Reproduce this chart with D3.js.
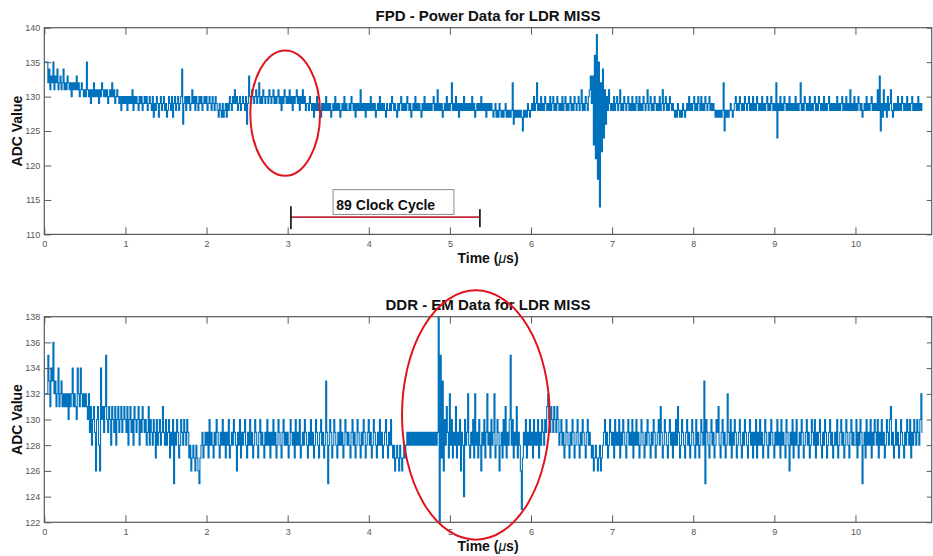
<!DOCTYPE html>
<html>
<head>
<meta charset="utf-8">
<script src="https://cdn.jsdelivr.net/npm/d3@7"></script>
<style>
	body { margin: 0; background: #fff; }
	svg { display: block; font-family: "Liberation Sans", Arial, sans-serif; }
</style>
</head>
<body>
<svg id="chart"></svg>
<script>
// sample spacing of both traces, in microseconds (20 samples per row = 0.25 us)
const dt = 0.0125;

// FPD power trace, ADC counts
const fpdValues = [
	135,135,135,135,132,134,131,133,132,135,131,133,132,134,131,132,133,131,132,134,
	131,132,131,133,132,131,132,130,132,131,132,131,133,131,132,130,131,132,131,130,
	131,130,135,131,130,131,129,131,130,132,130,131,130,131,129,131,130,132,131,130,
	131,130,131,129,130,131,130,132,130,131,129,130,131,130,129,130,128,130,129,130,
	129,130,128,130,129,130,129,131,128,130,129,130,129,128,130,129,130,128,129,130,
	129,130,128,129,130,129,128,130,127,129,128,130,129,127,129,130,128,129,130,128,
	129,127,128,130,129,128,130,127,129,130,128,129,130,128,129,130,134,126,129,130,
	128,130,129,130,128,129,131,129,130,128,130,129,128,130,129,130,128,129,130,129,
	130,128,129,130,129,128,130,129,128,130,129,128,127,129,128,127,129,127,128,129,
	127,129,128,130,129,128,130,129,131,129,130,128,129,130,128,129,130,129,128,130,
	126,129,133,130,129,131,130,129,130,131,129,130,132,129,130,129,131,130,129,130,
	130,129,131,130,129,130,131,129,130,129,130,131,129,130,128,130,129,131,130,129,
	130,129,131,129,130,128,130,129,130,131,129,130,128,130,129,131,129,130,128,129,
	129,128,130,129,128,129,127,129,128,130,128,129,128,127,129,128,129,128,130,128,
	129,128,129,127,128,129,128,130,128,129,128,129,127,128,129,128,130,128,129,128,
	128,129,128,130,129,128,129,127,129,128,129,128,131,128,129,128,129,127,129,128,
	129,128,130,128,129,128,129,127,128,129,128,130,128,129,128,129,128,127,129,128,
	128,129,128,130,129,128,129,128,127,129,128,129,130,128,129,128,129,128,130,129,
	128,129,127,128,129,128,130,128,129,128,129,128,127,129,128,130,128,129,128,129,
	128,129,128,129,130,128,129,128,131,128,129,128,129,127,128,129,128,130,128,129,
	128,129,132,128,129,128,130,128,129,127,129,128,129,128,130,128,129,128,129,128,
	129,128,130,128,129,127,128,129,128,129,128,130,128,129,128,129,127,129,128,129,
	128,129,128,127,128,129,127,128,127,129,128,127,128,127,128,129,127,128,127,128,
	127,128,132,126,128,127,128,127,128,127,128,127,125,128,127,128,127,129,128,127,
	128,129,128,130,128,129,132,128,129,128,130,128,129,128,130,129,128,129,128,130,
	128,129,130,128,129,128,130,129,128,129,128,130,128,129,130,128,129,128,129,130,
	128,129,128,130,129,128,129,130,128,129,131,128,129,128,130,129,128,130,131,133,
	129,133,123,136,121,139,118,135,114,132,122,134,124,131,126,130,128,131,129,128,
	129,128,130,128,129,130,128,129,131,128,129,128,130,129,128,129,130,128,129,128,
	130,128,129,128,130,129,128,130,128,129,128,130,129,128,129,131,128,129,130,128,
	129,128,130,129,128,129,128,130,128,129,131,128,129,130,128,129,128,130,129,128,
	129,128,127,128,127,129,128,127,128,127,129,128,127,128,129,128,130,128,129,128,
	129,130,128,129,128,130,129,128,130,128,129,128,130,129,128,129,130,128,129,128,
	129,128,127,128,127,128,127,128,127,128,132,125,128,127,128,127,128,129,128,127,
	128,129,130,128,129,128,130,129,128,129,128,130,129,128,129,130,128,129,128,130,
	128,129,128,130,129,128,129,128,130,128,129,128,129,130,128,129,128,130,129,128,
	129,128,132,124,129,128,130,128,129,128,130,129,128,129,128,130,128,129,128,129,
	128,130,128,129,128,129,132,128,129,128,130,129,128,129,128,130,128,129,128,129,
	130,128,129,128,130,129,128,129,128,130,128,129,128,129,130,128,129,128,129,128,
	129,128,130,128,129,128,129,130,128,129,128,130,128,129,128,131,128,129,128,130,
	128,129,128,130,129,128,129,127,128,129,128,130,128,129,128,129,130,128,129,128,
	129,128,131,128,133,125,129,127,131,128,129,127,130,128,129,131,128,127,129,128,
	129,128,130,128,129,128,130,129,128,129,128,130,128,129,128,129,130,128,129,128,
	129,128,130,128,129,128,129
];

// DDR EM trace, ADC counts
const ddrValues = [
	132,132,132,132,135,133,131,134,133,136,132,133,131,132,134,131,132,133,131,132,
	131,132,131,132,130,132,131,132,134,131,132,131,130,134,132,131,134,132,131,132,
	131,132,131,130,132,129,131,128,130,131,129,126,130,131,128,126,134,130,131,129,
	131,135,130,129,131,130,128,131,130,129,131,128,130,131,129,130,131,129,130,131,
	130,129,131,128,130,131,129,130,128,131,130,129,130,131,128,130,129,131,130,129,
	130,128,129,131,128,130,129,128,130,129,127,130,128,129,130,128,129,131,129,128,
	130,128,129,130,127,129,128,130,125,129,128,130,129,127,128,130,129,128,130,129,
	128,130,129,127,128,126,127,128,127,126,128,127,126,125,127,128,129,127,128,129,
	128,129,127,130,128,129,128,127,129,128,130,129,128,127,129,128,130,128,129,127,
	129,128,130,127,128,129,128,130,129,128,126,129,128,130,127,129,128,129,130,128,
	127,129,128,130,128,129,127,128,130,129,128,127,129,130,128,129,128,127,129,128,
	130,128,129,127,129,128,130,128,129,127,128,130,129,128,127,129,130,128,129,128,
	129,127,128,130,129,128,129,127,130,128,129,128,130,127,128,129,128,130,129,128,
	127,129,128,130,128,129,127,128,130,129,128,127,129,130,128,129,127,128,133,129,
	125,128,130,129,127,128,130,129,128,127,129,128,130,128,129,127,128,130,129,128,
	129,128,127,129,130,128,129,127,128,130,129,128,127,129,128,130,129,127,128,129,
	130,128,129,127,128,130,129,128,127,129,128,130,128,129,127,128,129,130,128,127,
	129,128,130,128,127,128,126,127,128,127,126,128,127,126,127,128,127,128,129,128,
	129,128,129,128,129,128,129,128,129,128,129,128,129,128,129,128,129,128,129,128,
	129,128,129,128,129,128,129,128,129,138,122,135,127,133,126,130,128,131,129,127,
	132,128,130,127,129,128,131,127,129,128,130,126,129,128,124,130,128,129,132,128,
	127,129,128,130,127,132,128,129,127,130,128,126,129,128,130,127,129,132,128,129,
	127,130,128,129,132,127,128,130,129,126,128,129,127,130,128,131,127,129,128,130,
	135,128,130,127,129,128,131,127,129,128,126,123,127,129,128,130,127,129,128,130,
	128,129,127,130,128,129,128,130,127,129,128,130,129,128,130,129,131,132,130,129,
	131,130,129,131,130,129,131,130,128,129,130,128,129,127,128,130,129,128,127,129,
	128,130,129,127,128,129,130,128,127,129,128,130,129,128,127,129,130,128,129,128,
	127,128,126,127,128,127,126,127,128,126,127,128,129,130,128,129,127,128,130,129,
	128,129,127,130,128,129,128,130,127,129,128,130,129,128,127,129,130,128,129,128,
	130,127,129,128,130,128,129,127,128,130,129,128,127,129,128,130,129,128,127,129,
	128,130,129,127,128,129,130,128,131,129,127,128,130,129,128,127,129,130,128,129,
	127,129,128,130,128,131,129,127,128,130,129,128,127,129,130,128,129,127,128,130,
	129,128,127,130,128,129,127,128,130,129,128,133,125,130,129,128,127,129,130,128,
	129,127,128,130,129,131,128,127,129,130,128,129,127,128,132,129,128,130,127,129,
	128,130,129,127,128,129,130,128,127,129,128,130,129,128,127,129,130,128,129,127,
	129,128,130,127,129,128,130,128,129,127,128,130,129,128,127,129,128,130,129,128,
	127,129,128,130,128,129,127,130,128,129,128,127,130,129,128,126,129,128,130,127,
	129,128,130,128,127,129,128,130,129,127,128,129,130,128,129,127,128,130,129,128,
	130,127,129,128,129,130,128,127,129,128,130,129,127,128,129,130,128,129,127,128,
	129,128,130,127,128,129,130,128,129,127,128,130,129,128,127,129,130,128,129,128,
	128,130,127,129,128,130,129,125,128,129,127,130,128,129,128,130,127,129,128,130,
	129,128,130,127,129,128,130,128,129,127,128,130,129,128,130,131,128,129,127,128,
	130,128,129,127,128,130,129,128,127,129,128,130,129,128,130,127,129,128,130,129,
	128,130,129,128,130,132,129
];

const xTicks = [0, 1, 2, 3, 4, 5, 6, 7, 8, 9, 10];
const fpdTicks = [110, 115, 120, 125, 130, 135, 140];
const ddrTicks = [122, 124, 126, 128, 130, 132, 134, 136, 138];

const width = 933, height = 556;
const left = 44.3, right = 931.7;
const xMax = 10.94;
const lineColor = '#0072bd';
const axisColor = '#5a5a5a';
const markColor = '#e0141e';
const fontFamily = '"Liberation Sans", Arial, sans-serif';

const svg = d3.select('#chart')
	.attr('width', width)
	.attr('height', height);

const x = d3.scaleLinear().domain([0, xMax]).range([left, right]);

function panel (cfg) {
	const y = d3.scaleLinear().domain(cfg.yDomain).range([cfg.bottom, cfg.top]);
	const g = svg.append('g');

	// samples are ~1px apart, so steps read like the dense vertical strokes of the scope trace
	const line = d3.line()
		.curve(d3.curveStep)
		.x((d, i) => x(i * dt))
		.y(d => y(d));

	g.append('path')
		.datum(cfg.values)
		.attr('d', line)
		.attr('fill', 'none')
		.attr('stroke', lineColor)
		.attr('stroke-width', 1.1);

	// axes, MATLAB style: ticks pointing in, box all round
	const styleAxis = sel => {
		sel.attr('font-family', fontFamily);
		sel.select('.domain').remove();
		sel.selectAll('line').attr('stroke', axisColor).attr('stroke-width', 1);
		sel.selectAll('text').attr('fill', '#555').style('font-size', '9px');
	};

	g.append('g')
		.attr('transform', `translate(0,${cfg.bottom})`)
		.call(d3.axisBottom(x).tickValues(xTicks).tickSizeInner(-7).tickSizeOuter(0).tickPadding(6))
		.call(styleAxis);
	g.append('g')
		.attr('transform', `translate(0,${cfg.top})`)
		.call(d3.axisTop(x).tickValues(xTicks).tickSizeInner(-7).tickSizeOuter(0).tickFormat(''))
		.call(styleAxis);
	g.append('g')
		.attr('transform', `translate(${left},0)`)
		.call(d3.axisLeft(y).tickValues(cfg.yTicks).tickSizeInner(-7).tickSizeOuter(0).tickPadding(4))
		.call(styleAxis);
	g.append('g')
		.attr('transform', `translate(${right},0)`)
		.call(d3.axisRight(y).tickValues(cfg.yTicks).tickSizeInner(-5).tickSizeOuter(0).tickFormat(''))
		.call(styleAxis);

	g.append('rect')
		.attr('x', left).attr('y', cfg.top)
		.attr('width', right - left).attr('height', cfg.bottom - cfg.top)
		.attr('fill', 'none')
		.attr('stroke', axisColor)
		.attr('stroke-width', 1.2);

	g.append('text')
		.attr('x', (left + right) / 2)
		.attr('y', cfg.top - 7)
		.attr('text-anchor', 'middle')
		.style('font-size', '15px')
		.style('font-weight', 'bold')
		.attr('fill', '#111')
		.text(cfg.title);

	const xl = g.append('text')
		.attr('x', (left + right) / 2)
		.attr('y', cfg.bottom + 29)
		.attr('text-anchor', 'middle')
		.style('font-size', '14px')
		.style('font-weight', 'bold')
		.attr('fill', '#111');
	xl.append('tspan').text('Time (');
	xl.append('tspan').style('font-style', 'italic').style('font-weight', 'normal').text('\u03bc');
	xl.append('tspan').text('s)');

	g.append('text')
		.attr('transform', `translate(22,${(cfg.top + cfg.bottom) / 2}) rotate(-90)`)
		.attr('text-anchor', 'middle')
		.style('font-size', '14px')
		.style('font-weight', 'bold')
		.attr('fill', '#111')
		.text('ADC Value');

	// highlight ellipse, given in data units
	const e = cfg.ellipse;
	g.append('ellipse')
		.attr('cx', x(e.t))
		.attr('cy', y(e.v))
		.attr('rx', x(e.t + e.dt) - x(e.t))
		.attr('ry', y(e.v - e.dv) - y(e.v))
		.attr('fill', 'none')
		.attr('stroke', markColor)
		.attr('stroke-width', 2);

	return { g, y };
}

const fpdPanel = panel({
	values: fpdValues,
	yDomain: [110, 140],
	yTicks: fpdTicks,
	top: 27.7, bottom: 234.4,
	title: 'FPD - Power Data for LDR MISS',
	ellipse: { t: 2.97, v: 127.6, dt: 0.43, dv: 9.1 }
});

panel({
	values: ddrValues,
	yDomain: [122, 138],
	yTicks: ddrTicks,
	top: 316.7, bottom: 522.3,
	title: 'DDR - EM Data for LDR MISS',
	ellipse: { t: 5.32, v: 130.35, dt: 0.91, dv: 9.7 }
});

// 89 clock cycle span marker on the FPD panel
const span = { from: 3.04, to: 5.37, at: 112.5 };
const yt = fpdPanel.y;
fpdPanel.g.append('line')
	.attr('x1', x(span.from)).attr('x2', x(span.to))
	.attr('y1', yt(span.at)).attr('y2', yt(span.at))
	.attr('stroke', '#c42a3c')
	.attr('stroke-width', 1.8);
fpdPanel.g.append('line')
	.attr('x1', x(span.from)).attr('x2', x(span.from))
	.attr('y1', yt(span.at) - 11).attr('y2', yt(span.at) + 12)
	.attr('stroke', '#222').attr('stroke-width', 1.8);
fpdPanel.g.append('line')
	.attr('x1', x(span.to)).attr('x2', x(span.to))
	.attr('y1', yt(span.at) - 8).attr('y2', yt(span.at) + 10)
	.attr('stroke', '#222').attr('stroke-width', 1.8);

fpdPanel.g.append('rect')
	.attr('x', x(3.56)).attr('y', yt(116.5))
	.attr('width', x(5.05) - x(3.56))
	.attr('height', yt(112.9) - yt(116.5))
	.attr('fill', '#fff')
	.attr('stroke', '#8a8a8a')
	.attr('stroke-width', 1);
fpdPanel.g.append('text')
	.attr('x', x(3.6))
	.attr('y', yt(113.5))
	.style('font-size', '14px')
	.style('font-weight', 'bold')
	.attr('fill', '#111')
	.text('89 Clock Cycle');
</script>
</body>
</html>
